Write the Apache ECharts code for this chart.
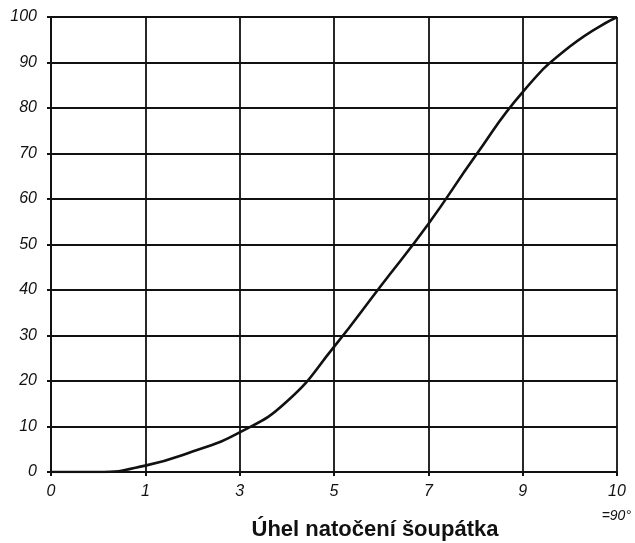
<!DOCTYPE html>
<html>
<head>
<meta charset="utf-8">
<script src="https://cdn.jsdelivr.net/npm/echarts@6/dist/echarts.min.js"></script>
<style>
  html, body { margin: 0; padding: 0; background: #fff; }
  #chart { width: 635px; height: 543px; }
</style>
</head>
<body>
<div id="chart"></div>
<script>
// x axis is evenly spaced, but labelled 0,1,3,5,7,9,10
const xLabels = ["0", "1", "3", "5", "7", "9", "10"];
const yTicks = [0, 10, 20, 30, 40, 50, 60, 70, 80, 90, 100];

// curve points, x given as position along the evenly spaced axis
const curveX = [0, 0.5, 1, 1.5, 2, 2.5, 3, 3.5, 4, 4.5, 5, 5.5, 6];
const curveY = [0, 0, 1.4, 4.5, 8.7, 15.5, 27.5, 41, 54.5, 69.5, 83.5, 93.5, 100];

const chart = echarts.init(document.getElementById("chart"));
const font = "'Liberation Sans', Arial, sans-serif";

const option = {
  animation: false,
  backgroundColor: "#fff",
  title: {
    text: "Úhel natočení šoupátka",
    left: 370,
    top: 514,
    textAlign: "center",
    textStyle: { fontFamily: font, fontSize: 22, fontWeight: "bold", color: "#111" }
  },
  graphic: [{
    type: "text",
    right: 4,
    top: 509,
    style: { text: "=90°", font: "italic 14px " + font, fill: "#111" }
  }],
  grid: { left: 51, right: 18, top: 17, bottom: 71 },
  xAxis: {
    type: "value",
    min: 0,
    max: xLabels.length - 1,
    interval: 1,
    axisLine: { show: true, onZero: false, lineStyle: { color: "#111", width: 2 } },
    axisTick: { show: true, length: 4, lineStyle: { color: "#111", width: 2 } },
    axisLabel: {
      margin: 12,
      formatter: (v) => xLabels[Math.round(v)],
      fontFamily: font, fontStyle: "italic", fontSize: 16, color: "#111"
    },
    splitLine: { show: true, lineStyle: { color: "#111", width: 1.8 } }
  },
  yAxis: {
    type: "value",
    min: yTicks[0],
    max: yTicks[yTicks.length - 1],
    interval: 10,
    axisLine: { show: true, lineStyle: { color: "#111", width: 2 } },
    axisTick: { show: true, length: 4, lineStyle: { color: "#111", width: 2 } },
    axisLabel: {
      margin: 14,
      fontFamily: font, fontStyle: "italic", fontSize: 16, color: "#111"
    },
    splitLine: { show: true, lineStyle: { color: "#111", width: 1.8 } }
  },
  series: [{
    type: "line",
    smooth: 0.5,
    showSymbol: false,
    data: curveX.map((x, i) => [x, curveY[i]]),
    lineStyle: { color: "#111", width: 2.6 }
  }]
};

chart.setOption(option);
</script>
</body>
</html>
